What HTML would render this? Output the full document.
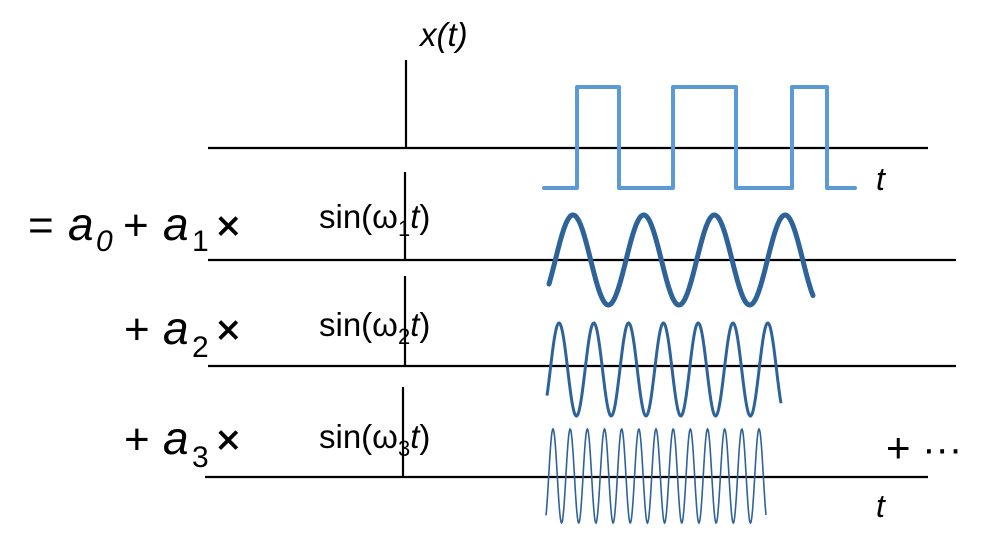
<!DOCTYPE html>
<html><head><meta charset="utf-8"><style>
html,body{margin:0;padding:0;background:#fff;}
svg{display:block;font-family:"Liberation Sans",Arial,sans-serif;}
</style></head><body>
<svg id="s" width="994" height="559" viewBox="0 0 994 559" xmlns="http://www.w3.org/2000/svg">
<g stroke="#000" stroke-width="2.2">
<line x1="208" y1="148" x2="928" y2="148"/>
<line x1="208" y1="260" x2="956" y2="260"/>
<line x1="208" y1="366" x2="956" y2="366"/>
<line x1="205" y1="477" x2="928" y2="477"/>
<line x1="406" y1="60" x2="406" y2="148"/>
<line x1="405" y1="172" x2="405" y2="260"/>
<line x1="405" y1="276" x2="405" y2="366"/>
<line x1="403" y1="387" x2="403" y2="477"/>
</g>
<polyline fill="none" stroke="#5b9bd5" stroke-width="4" stroke-linejoin="round" stroke-linecap="round"
 points="544,188 577,188 577,87 619,87 619,188 673,188 673,87 736,87 736,188 792,188 792,87 827,87 827,188 855,188"/>
<path id="w1" fill="none" stroke="#2e6399" stroke-width="5" stroke-linecap="round"/>
<path id="w2" fill="none" stroke="#2e6399" stroke-width="3"/>
<path id="w3" fill="none" stroke="#2e6399" stroke-width="1.6"/>
<g fill="#000">
<text x="420" y="46" font-size="33" font-style="italic">x(t)</text>
<text x="876" y="190" font-size="32" font-style="italic">t</text>
<text x="876" y="517" font-size="32" font-style="italic">t</text>
<text x="886" y="462" font-size="42">+ <tspan font-size="40">···</tspan></text>

<text x="28" y="240" font-size="44">=</text>
<text x="68" y="240" font-size="46" font-style="italic">a</text>
<text x="96" y="251" font-size="30" font-style="italic">0</text>
<text x="123" y="240" font-size="44">+</text>
<text x="163" y="240" font-size="46" font-style="italic">a</text>
<text x="192" y="251" font-size="30">1</text>
<text x="216" y="240" font-size="42" stroke="#000" stroke-width="0.8">×</text>

<text x="124" y="344" font-size="44">+</text>
<text x="163" y="344" font-size="46" font-style="italic">a</text>
<text x="192" y="357" font-size="30">2</text>
<text x="216" y="344" font-size="42" stroke="#000" stroke-width="0.8">×</text>

<text x="124" y="454" font-size="44">+</text>
<text x="163" y="454" font-size="46" font-style="italic">a</text>
<text x="192" y="467" font-size="30">3</text>
<text x="216" y="454" font-size="42" stroke="#000" stroke-width="0.8">×</text>

<text x="319" y="228" font-size="33">sin(ω<tspan font-size="22" dy="8">1</tspan><tspan dy="-8" font-style="italic">t</tspan>)</text>
<text x="319" y="336" font-size="33">sin(ω<tspan font-size="22" dy="8">2</tspan><tspan dy="-8" font-style="italic">t</tspan>)</text>
<text x="319" y="448" font-size="33">sin(ω<tspan font-size="22" dy="8">3</tspan><tspan dy="-8" font-style="italic">t</tspan>)</text>
</g>
</svg>
<script>
function wave(id,x0,x1,mid,amp,peak,per){
  var d="";
  for(var x=x0;x<=x1+0.01;x+=0.5){
    var y=mid-amp*Math.cos(2*Math.PI*(x-peak)/per);
    d+=(d?"L":"M")+x.toFixed(1)+","+y.toFixed(1);
  }
  document.getElementById(id).setAttribute("d",d);
}
wave("w1",549,813,260,45,573,70.7);
wave("w2",547,781,369.5,46.5,559,34.8);
wave("w3",546,766,476,47,553,17.17);
</script>
</body></html>
